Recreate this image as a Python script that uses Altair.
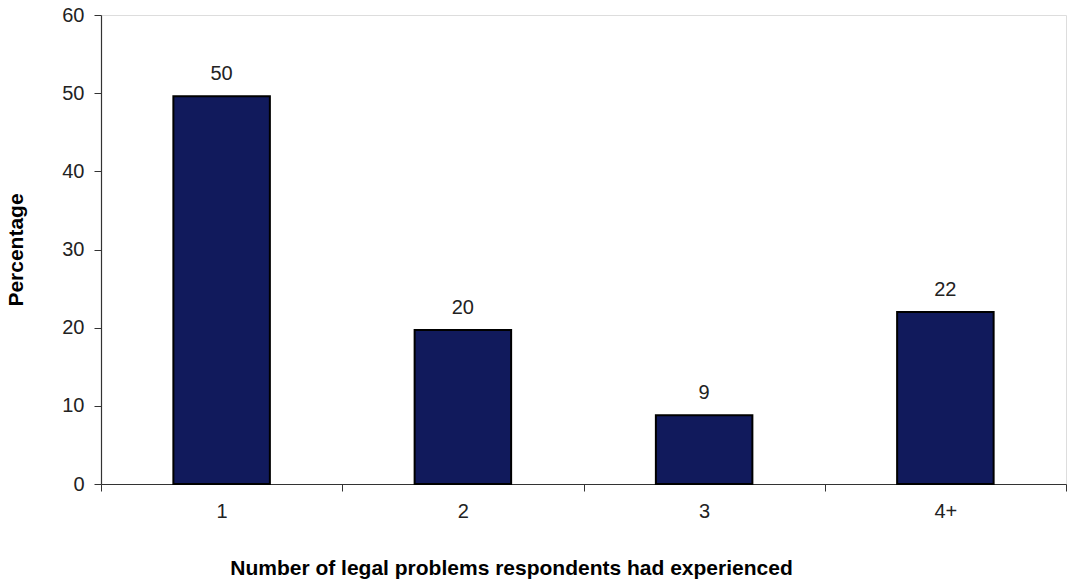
import altair as alt
import pandas as pd

categories = ["1", "2", "3", "4+"]
values = [49.6, 19.7, 8.8, 22.0]
labels = ["50", "20", "9", "22"]

df = pd.DataFrame({"cat": categories, "val": values, "lab": labels})

FONT = "Liberation Sans"
FS = 20
TFS = 21

base = alt.Chart(df).encode(
    x=alt.X(
        "cat:N",
        sort=categories,
        scale=alt.Scale(paddingInner=0, paddingOuter=0),
        axis=alt.Axis(
            title="Number of legal problems respondents had experienced",
            titleFont=FONT, titleFontSize=TFS, titleFontWeight="bold", titleColor="#000000",
            titlePadding=36, titleX=410, titleAlign="center",
            labelFont=FONT, labelFontSize=FS, labelColor="#222222", labelAngle=0, labelPadding=10,
            tickBand="extent", tickSize=7, tickColor="#333333",
            domainColor="#333333", domainWidth=1.2,
        ),
    ),
)

bars = base.mark_bar(
    color="#111a5c", stroke="#000000", strokeWidth=2, width=alt.RelativeBandSize(0.4)
).encode(
    y=alt.Y(
        "val:Q",
        scale=alt.Scale(domain=[0, 60], nice=False),
        axis=alt.Axis(
            title="Percentage",
            titleFont=FONT, titleFontSize=TFS, titleFontWeight="bold", titleColor="#000000",
            titlePadding=35,
            labelFont=FONT, labelFontSize=FS, labelColor="#222222", labelPadding=10,
            values=[0, 10, 20, 30, 40, 50, 60],
            tickSize=7, tickColor="#333333",
            domainColor="#333333", domainWidth=1.2, grid=False,
        ),
    )
)

text = base.mark_text(font=FONT, fontSize=FS, color="#222222", baseline="alphabetic", dy=-16).encode(
    y="val:Q",
    text="lab:N",
)

chart = (
    alt.layer(bars, text)
    .properties(
        width=965,
        height=469,
        padding={"left": 101, "top": 15, "right": 2, "bottom": 95},
        autosize=alt.AutoSizeParams(type="none"),
    )
    .configure_view(stroke=None)
    .configure(background="#ffffff")
)

chart.save("out.html", embed_options={"renderer": "svg", "actions": False})
